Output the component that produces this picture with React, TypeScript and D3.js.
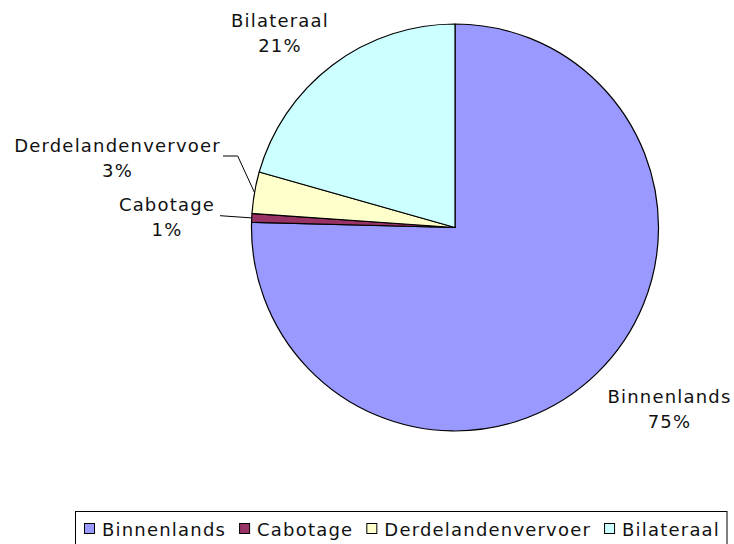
import React, { useEffect, useRef } from "react";
import * as d3 from "d3";

const categories = ["Binnenlands", "Cabotage", "Derdelandenvervoer", "Bilateraal"];
const values = [75.4, 0.7, 3.3, 20.6];
const colors = ["#9999FF", "#993366", "#FFFFCC", "#CCFFFF"];

// layout (label placement as in the reference)
const W = 734, H = 544;
const CX = 455, CY = 227.5, R = 203.5;
const FONT = "'DejaVu Sans', Verdana, sans-serif";
const FS = 18;
const LS = 1.2;
const labelLayout = [
  { x: 669.5, y: 403, leader: null as null | [number, number][] },
  { x: 167, y: 211, leader: [[220, 215.7]] as [number, number][] },
  { x: 117.5, y: 152, leader: [[223, 156], [237.7, 156]] as [number, number][] },
  { x: 280, y: 27, leader: null as null | [number, number][] },
];

export default function App() {
  const ref = useRef<SVGSVGElement | null>(null);
  useEffect(() => {
    const svg = d3.select(ref.current);
    svg.selectAll("*").remove();
    const total = d3.sum(values);
    const data = categories.map((c, i) => ({ c, v: values[i], col: colors[i], i }));
    const pie = d3.pie<any>().value((d) => d.v).sort(null);
    const arcs = pie(data);
    const arc = d3.arc<any>().innerRadius(0).outerRadius(R);
    const g = svg.append("g").attr("transform", `translate(${CX},${CY})`);
    g.selectAll("path")
      .data(arcs)
      .join("path")
      .attr("d", arc as any)
      .attr("fill", (d: any) => d.data.col)
      .attr("stroke", "#000")
      .attr("stroke-width", 1.2)
      .attr("stroke-linejoin", "round");

    // labels
    arcs.forEach((a: any, i: number) => {
      const L = labelLayout[i];
      const mid = (a.startAngle + a.endAngle) / 2;
      if (L.leader) {
        const edge: [number, number] = [CX + R * Math.sin(mid), CY - R * Math.cos(mid)];
        const pts = [...L.leader, edge];
        svg.append("path")
          .attr("d", d3.line()(pts as any) as string)
          .attr("fill", "none")
          .attr("stroke", "#000")
          .attr("stroke-width", 1);
      }
      const t = svg.append("text")
        .attr("text-anchor", "middle")
        .attr("font-family", FONT)
        .attr("font-size", FS)
        .attr("letter-spacing", LS)
        .attr("fill", "#111");
      t.append("tspan").attr("x", L.x).attr("y", L.y).text(a.data.c);
      t.append("tspan").attr("x", L.x).attr("y", L.y + 25).text(Math.round((a.data.v / total) * 100) + "%");
    });

    // legend
    const lg = svg.append("g");
    lg.append("rect")
      .attr("x", 75.5).attr("y", 511.5).attr("width", 651.5).attr("height", 40)
      .attr("fill", "#fff").attr("stroke", "#000").attr("stroke-width", 1);
    let x = 84;
    data.forEach((d) => {
      lg.append("rect")
        .attr("x", x + 0.5).attr("y", 523.5).attr("width", 10).attr("height", 10)
        .attr("fill", d.col).attr("stroke", "#000").attr("stroke-width", 1);
      const tx = lg.append("text")
        .attr("x", x + 18).attr("y", 536)
        .attr("font-family", FONT).attr("font-size", FS)
        .attr("letter-spacing", LS)
        .attr("fill", "#111")
        .text(d.c);
      const w = (tx.node() as SVGTextElement).getComputedTextLength();
      x = x + 18 + w + 13;
    });
  }, []);
  return (
    <svg
      ref={ref}
      width={W}
      height={H}
      style={{ position: "absolute", left: 0, top: 0, background: "#fff" }}
    />
  );
}
